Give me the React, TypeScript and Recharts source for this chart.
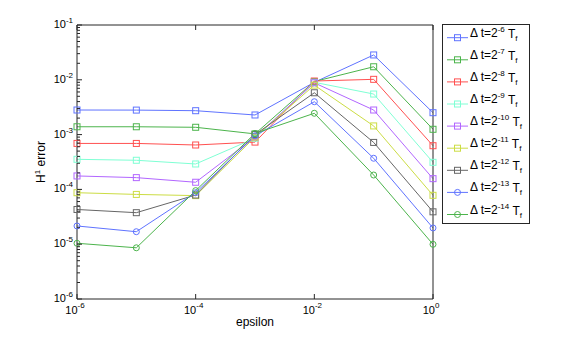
import { LineChart, Line, XAxis, YAxis } from 'recharts'

// epsilon values (x) and H1 error for each time step
const epsilon = [1e-6, 1e-5, 1e-4, 1e-3, 1e-2, 1e-1, 1]
const dt6 = [2.81e-3, 2.8e-3, 2.73e-3, 2.28e-3, 9.0e-3, 2.84e-2, 2.51e-3]
const dt7 = [1.39e-3, 1.39e-3, 1.36e-3, 1.03e-3, 9.3e-3, 1.73e-2, 1.25e-3]
const dt8 = [6.9e-4, 6.9e-4, 6.46e-4, 7.3e-4, 9.5e-3, 1.02e-2, 6.27e-4]
const dt9 = [3.54e-4, 3.4e-4, 2.91e-4, 8.6e-4, 9.0e-3, 5.5e-3, 3.12e-4]
const dt10 = [1.76e-4, 1.64e-4, 1.35e-4, 9.0e-4, 8.8e-3, 2.81e-3, 1.57e-4]
const dt11 = [8.7e-5, 8.1e-5, 7.7e-5, 9.0e-4, 8.0e-3, 1.44e-3, 7.8e-5]
const dt12 = [4.3e-5, 3.76e-5, 7.9e-5, 1.0e-3, 5.8e-3, 7.2e-4, 3.9e-5]
const dt13 = [2.15e-5, 1.69e-5, 8.7e-5, 9.5e-4, 3.98e-3, 3.7e-4, 1.98e-5]
const dt14 = [1.04e-5, 8.6e-6, 9.5e-5, 1.05e-3, 2.45e-3, 1.83e-4, 9.95e-6]

const series = [dt6, dt7, dt8, dt9, dt10, dt11, dt12, dt13, dt14]
const seriesExp = ['-6', '-7', '-8', '-9', '-10', '-11', '-12', '-13', '-14']
const colors = ['#5f73ff', '#4cb44c', '#ff5050', '#7fffd4', '#b266ff', '#ccdd44', '#666666', '#5f73ff', '#4cb44c']
const markers = ['square', 'square', 'square', 'square', 'square', 'square', 'square', 'circle', 'circle']

const xMajor = [1e-6, 1e-4, 1e-2, 1]
const xExp = ['-6', '-4', '-2', '0']
const yMajor = [1e-6, 1e-5, 1e-4, 1e-3, 1e-2, 1e-1]
const yExp = ['-6', '-5', '-4', '-3', '-2', '-1']
const yMinor = yMajor.slice(0, -1).flatMap((d) => [2, 3, 4, 5, 6, 7, 8, 9].map((k) => k * d))
const yTicks = [...yMajor, ...yMinor].sort((a, b) => a - b)

const data = epsilon.map((e, j) => {
  const row: Record<string, number> = { eps: e }
  series.forEach((s, i) => (row[`s${i}`] = s[j]))
  return row
})

const FRAME = '#262626'
const FONT = '"Liberation Sans", Arial, Helvetica, sans-serif'

const majorIndex = (list: number[], v: number) => list.findIndex((m) => Math.abs(v / m - 1) < 1e-6)

function BottomTick({ x, y, payload }: any) {
  const i = majorIndex(xMajor, payload.value)
  return (
    <g>
      <line x1={x} x2={x} y1={y} y2={y - 5} stroke={FRAME} />
      {i >= 0 && (
        <text x={x - 2} y={y + 15} textAnchor="middle" fontSize={11} fill="#000" fontFamily={FONT}>
          10<tspan dy={-6} fontSize={8}>{xExp[i]}</tspan>
        </text>
      )}
    </g>
  )
}

function TopTick({ x, y }: any) {
  return <line x1={x} x2={x} y1={y} y2={y + 5} stroke={FRAME} />
}

function LeftTick({ x, y, payload }: any) {
  const i = majorIndex(yMajor, payload.value)
  const len = i >= 0 ? 5 : 3
  return (
    <g>
      <line x1={x} x2={x + len} y1={y} y2={y} stroke={FRAME} />
      {i >= 0 && (
        <text x={x - 4} y={y + 3} textAnchor="end" fontSize={11} fill="#000" fontFamily={FONT}>
          10<tspan dy={-5} fontSize={8}>{yExp[i]}</tspan>
        </text>
      )}
    </g>
  )
}

function RightTick({ x, y, payload }: any) {
  const len = majorIndex(yMajor, payload.value) >= 0 ? 5 : 3
  return <line x1={x} x2={x - len} y1={y} y2={y} stroke={FRAME} />
}

function XTitle({ viewBox }: any) {
  return (
    <text x={viewBox.x + viewBox.width / 2} y={viewBox.y + 27} textAnchor="middle" fontSize={12} fontFamily={FONT}>
      epsilon
    </text>
  )
}

function YTitle({ viewBox }: any) {
  const cx = viewBox.x + viewBox.width - 32
  const cy = viewBox.y + viewBox.height / 2
  return (
    <text x={cx} y={cy} transform={`rotate(-90 ${cx} ${cy})`} textAnchor="middle" fontSize={12} fontFamily={FONT}>
      H<tspan dy={-5} fontSize={8}>1</tspan>
      <tspan dy={5}> error</tspan>
    </text>
  )
}

function Marker({ cx, cy, shape, color }: any) {
  if (cx == null || cy == null) return null
  if (shape === 'circle') return <circle cx={cx} cy={cy} r={3} fill="none" stroke={color} />
  return <rect x={cx - 3} y={cy - 3} width={6} height={6} fill="none" stroke={color} />
}

function LegendBox() {
  return (
    <svg width={88} height={201} style={{ position: 'absolute', left: 442, top: 24 }}>
      <rect x={0.5} y={0.5} width={87} height={199} fill="#fff" stroke={FRAME} />
      {seriesExp.map((exp, i) => {
        const ey = 13.7 + 22.1 * i
        return (
          <g key={exp}>
            <line x1={5} x2={26} y1={ey} y2={ey} stroke={colors[i]} />
            <Marker cx={15.5} cy={ey} shape={markers[i]} color={colors[i]} />
            <text x={28} y={ey - 1} fontSize={12} fontFamily={FONT}>
              Δ t=2<tspan dy={-5} fontSize={8}>{exp}</tspan>
              <tspan dy={6} fontSize={12}> T</tspan>
              <tspan dy={3} fontSize={8}>f</tspan>
            </text>
          </g>
        )
      })}
    </svg>
  )
}

export default function App() {
  return (
    <div style={{ position: 'absolute', left: 0, top: 0, width: 586, height: 337, background: '#fff' }}>
      <LineChart width={586} height={337} data={data} margin={{ top: 0, right: 0, bottom: 0, left: 0 }}>
        <XAxis
          xAxisId="b"
          type="number"
          dataKey="eps"
          scale="log"
          domain={[1e-6, 1]}
          ticks={xMajor}
          interval={0}
          height={38}
          tickSize={0}
          tickMargin={0}
          tickLine={false}
          tick={BottomTick}
          axisLine={{ stroke: FRAME }}
          label={{ content: XTitle }}
        />
        <XAxis
          xAxisId="t"
          orientation="top"
          type="number"
          dataKey="eps"
          scale="log"
          domain={[1e-6, 1]}
          ticks={xMajor}
          interval={0}
          height={25}
          tickSize={0}
          tickMargin={0}
          tickLine={false}
          tick={TopTick}
          axisLine={{ stroke: FRAME }}
        />
        <YAxis
          yAxisId="l"
          type="number"
          scale="log"
          domain={[1e-6, 1e-1]}
          ticks={yTicks}
          interval={0}
          width={77}
          tickSize={0}
          tickMargin={0}
          tickLine={false}
          tick={LeftTick}
          axisLine={{ stroke: FRAME }}
          label={{ content: YTitle }}
        />
        <YAxis
          yAxisId="r"
          orientation="right"
          type="number"
          scale="log"
          domain={[1e-6, 1e-1]}
          ticks={yTicks}
          interval={0}
          width={153}
          tickSize={0}
          tickMargin={0}
          tickLine={false}
          tick={RightTick}
          axisLine={{ stroke: FRAME }}
        />
        {series.map((_, i) => (
          <Line
            key={i}
            xAxisId="b"
            yAxisId="l"
            type="linear"
            dataKey={`s${i}`}
            stroke={colors[i]}
            strokeWidth={1}
            activeDot={false}
            isAnimationActive={false}
            dot={(p: any) => <Marker key={`${i}-${p.index}`} cx={p.cx} cy={p.cy} shape={markers[i]} color={colors[i]} />}
          />
        ))}
      </LineChart>
      <LegendBox />
    </div>
  )
}
